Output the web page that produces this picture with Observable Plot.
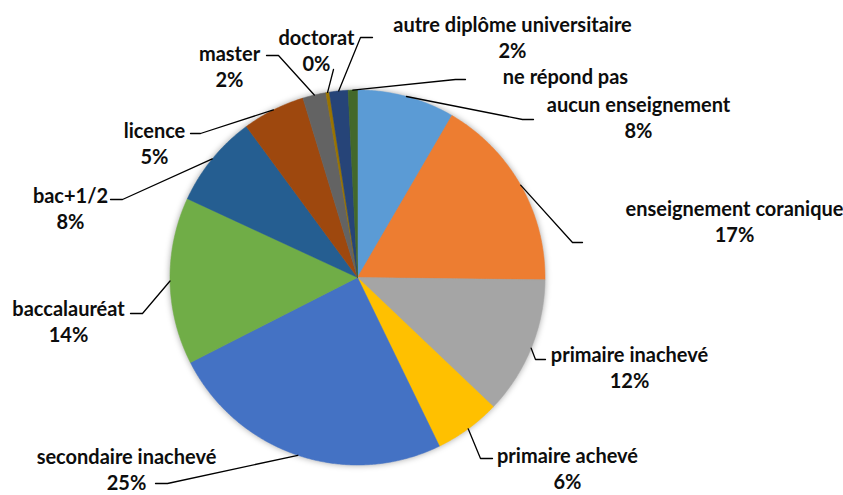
<!DOCTYPE html>
<html><head><meta charset="utf-8">
<script src="https://cdn.jsdelivr.net/npm/d3@7"></script>
<script src="https://cdn.jsdelivr.net/npm/@observablehq/plot@0.6"></script>
<style>body{margin:0;background:#fff}#chart svg{display:block}</style>
</head><body><div id="chart"></div>
<script>
// ---- data ----
const categories = ["aucun enseignement","enseignement coranique","primaire inachevé","primaire achevé","secondaire inachevé","baccalauréat","bac+1/2","licence","master","doctorat","autre diplôme universitaire","ne répond pas"];
const values = [8.4, 16.8, 11.9, 5.7, 24.7, 14.4, 8.0, 5.4, 2.0, 0.3, 1.6, 0.8];
const showPercent = [true,true,true,true,true,true,true,true,true,true,true,false];
const colors = ["#5B9BD5","#ED7D31","#A5A5A5","#FFC000","#4472C4","#70AD47","#255E91","#9E480E","#636363","#997300","#264478","#43682B"];

// ---- label layout (pixels) ----
const labelX = [638, 734, 629, 567, 126, 68, 70, 154, 229, 316, 512, 565];
const labelY = [116, 220.5, 366.5, 467, 468, 320.5, 207, 142, 65, 49.5, 36.5, 75];
const elbowX = [522, 572, 535, 480, 167, 142, 122, 200, 278, 333, 360, 455];
const elbowY = [119, 242, 359, 458, 483, 313, 199, 133, 55, 69, 37, 79];
const endX   = [533, 582, 545, 492, 155, 130, 110, 190, 266, 333, 372, 465];
const endY   = [119, 242, 359, 458, 483, 313, 199, 133, 55, 69, 37, 79];

const W = 843, H = 495, CX = 357, CY = 277, R = 187.5;
const ux = px => (px - CX) / R, uy = py => (CY - py) / R;

const total = d3.sum(values);
let acc = 0;
const slices = categories.map((c, i) => {
  const a0 = acc / total * 2 * Math.PI; acc += values[i];
  const a1 = acc / total * 2 * Math.PI;
  return {c, a0, a1, mid: (a0 + a1) / 2};
});
const polyPts = [];
slices.forEach(s => {
  polyPts.push({c: s.c, x: 0, y: 0});
  const n = Math.max(2, Math.ceil((s.a1 - s.a0) / (Math.PI / 360)));
  for (let k = 0; k <= n; k++) {
    const a = s.a0 + (s.a1 - s.a0) * k / n;
    polyPts.push({c: s.c, x: Math.sin(a), y: Math.cos(a)});
  }
  polyPts.push({c: s.c, x: 0, y: 0});
});
const leaders = [];
slices.forEach((s, i) => {
  leaders.push({c: s.c, x: Math.sin(s.mid), y: Math.cos(s.mid)},
               {c: s.c, x: ux(elbowX[i]), y: uy(elbowY[i])},
               {c: s.c, x: ux(endX[i]), y: uy(endY[i])});
});
const labels = slices.map((s, i) => ({
  x: ux(labelX[i]), y: uy(labelY[i]),
  text: categories[i] + (showPercent[i] ? "\n" + Math.round(values[i] / total * 100) + "%" : "")
}));

const chart = Plot.plot({
  width: W, height: H, margin: 0,
  style: {fontFamily: "Lato, sans-serif", background: "#fff"},
  x: {domain: [ux(0), ux(W)], axis: null},
  y: {domain: [uy(H), uy(0)], axis: null},
  color: {domain: categories, range: colors},
  marks: [
    Plot.line(polyPts, {x: "x", y: "y", z: "c", fill: "c", stroke: "c", strokeWidth: 0.5, curve: "linear"}),
    Plot.line(leaders, {x: "x", y: "y", z: "c", stroke: "#000", strokeWidth: 1.3, curve: "linear"}),
    Plot.text(labels, {x: "x", y: "y", text: "text", fontWeight: "bold", fontSize: 20, lineHeight: 1.3, fill: "#0d0d0d", fontFamily: "Lato, sans-serif"})
  ]
});
document.getElementById("chart").appendChild(chart);
const g = chart.querySelector('g[aria-label="line"]');
if (g) g.style.filter = "drop-shadow(0px 0px 3px rgba(0,0,0,0.35))";
</script>
</body></html>
